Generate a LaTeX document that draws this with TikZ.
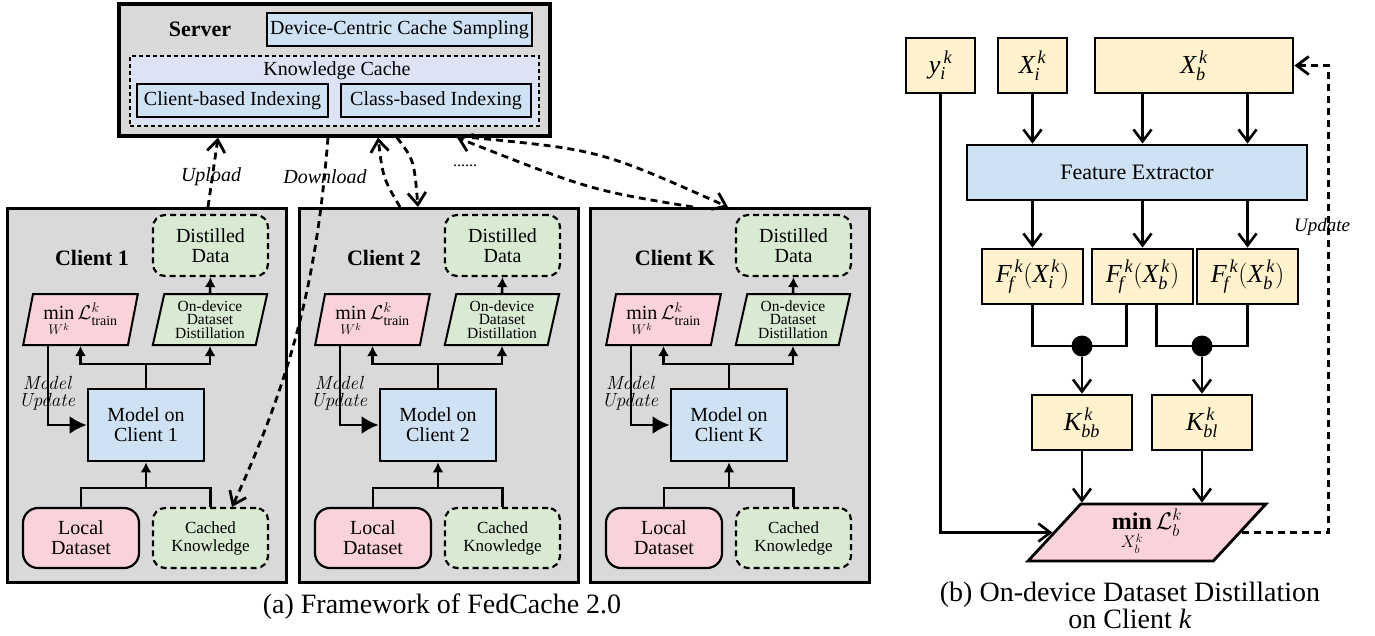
\RequirePackage{fix-cm}
\documentclass[tikz,border=0pt]{standalone}
\usepackage{amsmath}
\usepackage{fontspec}
\setmainfont{Liberation Serif}
\newfontfamily\lmr{Latin Modern Roman}
\usetikzlibrary{arrows.meta,shapes.geometric,calc}
\definecolor{cgray}{HTML}{D9D9D9}
\definecolor{cblue}{HTML}{CFE2F3}
\definecolor{clav}{HTML}{DCE3F5}
\definecolor{cpink}{HTML}{F9D2DA}
\definecolor{cgreen}{HTML}{D9EAD3}
\definecolor{cyel}{HTML}{FFF2CC}
\newcommand\fs[2]{\fontsize{#1}{#2}\selectfont}
\newcommand\mi[1]{\text{\itshape #1}}
\begin{document}
\begin{tikzpicture}[x=1pt,y=-1pt,
 outerbox/.style={draw, line width=3.2pt, fill=cgray, inner sep=0pt},
 thinbox/.style={draw, line width=1.4pt, fill=cblue, font=\fs{20}{22}, inner sep=0pt},
 kcbox/.style={draw, line width=1.4pt, dash pattern=on 4pt off 3pt, fill=clav},
 distbox/.style={draw, line width=2.2pt, dash pattern=on 6pt off 4pt, rounded corners=12pt, fill=cgreen, align=center, minimum width=115pt, inner sep=0pt},
 localbox/.style={draw, line width=2.2pt, rounded corners=15pt, fill=cpink, align=center, minimum width=116pt, minimum height=60pt, inner sep=0pt, font=\fs{20}{20}},
 modelbox/.style={draw, line width=2.8pt, fill=cblue, align=center, minimum width=116pt, minimum height=72pt, inner sep=0pt, font=\fs{20}{20}},
 pgram/.style={draw, line width=2pt, trapezium, trapezium left angle=77, trapezium right angle=103, trapezium stretches=true, minimum width=115pt, minimum height=51pt, inner sep=0pt, align=center},
 ybox/.style={draw, line width=2.8pt, fill=cyel, minimum height=55pt, inner sep=0pt, font=\fs{26}{28}},
 ln/.style={line width=2.6pt},
 farr/.style={ln, -{Latex[length=10pt,width=11pt]}},
 bigarr/.style={ln, -{Latex[length=17pt,width=18pt]}},
 barb/.style={-{Straight Barb[length=12pt,width=18pt]}},
 dsh/.style={line width=2.8pt, dash pattern=on 7pt off 5pt},
]
\useasboundingbox (0,0) rectangle (1375,635);

% ---------------- Server ----------------
\node[outerbox, minimum width=431pt, minimum height=132pt] (srv) at (334.5,70) {};
\node[font=\bfseries\fs{22}{24}] (srvl) at (200,29) {Server};
\node[thinbox, minimum width=265pt, minimum height=33pt] (dccs) at (399.5,29.5) {Device-Centric Cache Sampling};
\node[kcbox, minimum width=409pt, minimum height=70pt] (kc) at (334.5,91) {};
\node[font=\fs{20}{22}] (kcl) at (337,71) {Knowledge Cache};
\node[thinbox, minimum width=191pt, minimum height=33pt] (cbi) at (232.5,100.5) {Client-based Indexing};
\node[thinbox, minimum width=190pt, minimum height=33pt] (clbi) at (436,100.5) {Class-based Indexing};

% ---------------- Clients ----------------
\foreach \ci/\cx/\clab in {1/6/1,2/298/2,3/589/K} {
  \node[outerbox, minimum width=279pt, minimum height=374pt, anchor=north west] (c\ci) at (\cx,207) {};
  \begin{scope}[shift={(\cx,207)}]
    \node[font=\bfseries\fs{22}{24}] (cl\ci) at (86,51) {Client \clab};
    \node[distbox, minimum height=61pt, font=\fs{20}{20}] (dd\ci) at (204.5,38.5) {Distilled\\Data};
    \node[pgram, fill=cpink, font=\fs{20}{22}] (ml\ci) at (74.5,112.5) {$\min\limits_{W^k}\mathcal{L}^k_{\mathrm{train}}$};
    \node[pgram, fill=cgreen, font=\fs{15.5}{13.5}] (od\ci) at (204,112.5) {On-device\\Dataset\\Distillation};
    \node[modelbox] (m\ci) at (140,218) {Model on\\Client \clab};
    \node[localbox] (ld\ci) at (75,331) {Local\\Dataset};
    \node[distbox, minimum height=60pt, font=\fs{17}{18}] (ck\ci) at (204.5,331) {Cached\\Knowledge};
    \coordinate (jt\ci) at (140,157);
    \coordinate (jb\ci) at (140,281);
    \draw[ln] (m\ci.north) -- (jt\ci);
    \draw[farr] (jt\ci) -| (ml\ci.south);
    \draw[farr] (jt\ci) -| (od\ci.south);
    \draw[farr] (od\ci.north) -- (dd\ci.south);
    \draw[ln] (ld\ci.north) |- (jb\ci) -| (ck\ci.north);
    \draw[farr] (jb\ci) -- (m\ci.south);
    \draw[bigarr] ($(ml\ci.south)+(-32.5,0)$) |- (m\ci.west);
    \node[font=\lmr\itshape\fs{19}{17}, align=center] (mu\ci) at (41,186) {Model\\Update};
  \end{scope}
}

% ---------------- Server <-> clients ----------------
\coordinate (u1) at (208,0);
\coordinate (u2) at (218,0);
\coordinate (dl1) at (328,0);
\coordinate (dl2) at (232,0);
\coordinate (a1) at (400,0);
\coordinate (a2) at (378,0);
\coordinate (b1) at (397,0);
\coordinate (b2) at (418,0);
\coordinate (k1) at (693,0);
\coordinate (k2) at (457,0);
\coordinate (k3) at (472,0);
\coordinate (k4) at (728,0);

\draw[dsh, barb] (c1.north -| u1) -- (srv.south -| u2);
\draw[dsh, barb] (srv.south -| dl1) .. controls (318,260) and (300,360) .. (ck1.north -| dl2);
\draw[dsh, barb] (c2.north -| a1) .. controls (383,178) .. (srv.south -| a2);
\draw[dsh, barb] (srv.south -| b1) .. controls (414,160) .. (c2.north -| b2);
\draw[dsh, barb] (c3.north -| k1) .. controls (590,190) .. (srv.south -| k2);
\draw[dsh, barb] (srv.south -| k3) .. controls (600,150) .. (c3.north -| k4);

\node[font=\itshape\fs{20}{22}] (upl) at (211,177) {Upload};
\node[font=\itshape\fs{20}{22}] (dnl) at (325,177) {Download};
\node[font=\fs{16}{18}] (dots) at (465,166) {......};

% ---------------- Right panel ----------------
\node[ybox, minimum width=69pt] (yik) at (940.5,65.5) {$\mi{y}_{\mi{i}}^{\,\mi{k}}$};
\node[ybox, minimum width=69pt] (xik) at (1032.5,65.5) {$\mi{X}_{\mi{i}}^{\,\mi{k}}$};
\node[ybox, minimum width=198pt] (xbk) at (1194,65.5) {$\mi{X}_{\mi{b}}^{\,\mi{k}}$};
\node[draw, line width=2.8pt, fill=cblue, minimum width=340pt, minimum height=55pt, inner sep=0pt, font=\fs{22}{24}] (fe) at (1137,172.5) {Feature Extractor};
\node[ybox, minimum width=101pt] (f1) at (1032.5,276.5) {$\mi{F}_{\!\mi{f}}^{\,\mi{k}}(\mi{X}_{\mi{i}}^{\,\mi{k}})$};
\node[ybox, minimum width=101pt] (f2) at (1142.5,276.5) {$\mi{F}_{\!\mi{f}}^{\,\mi{k}}(\mi{X}_{\mi{b}}^{\,\mi{k}})$};
\node[ybox, minimum width=101pt] (f3) at (1247.5,276.5) {$\mi{F}_{\!\mi{f}}^{\,\mi{k}}(\mi{X}_{\mi{b}}^{\,\mi{k}})$};
\node[circle, fill=black, inner sep=0pt, minimum size=21pt] (d1) at (1082,346) {};
\node[circle, fill=black, inner sep=0pt, minimum size=21pt] (d2) at (1202,346) {};
\node[ybox, minimum width=100pt] (kbb) at (1082,422.5) {$\mi{K}_{\mi{bb}}^{\,\mi{k}}$};
\node[ybox, minimum width=100pt] (kbl) at (1202,422.5) {$\mi{K}_{\mi{bl}}^{\,\mi{k}}$};
\node[draw, line width=2.8pt, fill=cpink, trapezium, trapezium left angle=59, trapezium right angle=121, trapezium stretches=true, minimum width=238pt, minimum height=57pt, inner sep=0pt, font=\fs{24}{26}] (lb) at (1147,532.5) {$\mathop{\mathbf{min}}\limits_{X_b^k}\mathcal{L}_b^k$};

\coordinate (f2l) at ($(f2.south)+(-16,0)$);
\coordinate (f2r) at ($(f2.south)+(14,0)$);
\coordinate (uc) at ($(xbk.east)+(34,0)$);

\draw[ln, barb] (xik.south) -- (xik.south |- fe.north);
\draw[ln, barb] (xbk.south -| f2.north) -- (f2.north |- fe.north);
\draw[ln, barb] (xbk.south -| f3.north) -- (f3.north |- fe.north);
\draw[ln, barb] (fe.south -| f1.north) -- (f1.north);
\draw[ln, barb] (fe.south -| f2.north) -- (f2.north);
\draw[ln, barb] (fe.south -| f3.north) -- (f3.north);
\draw[ln] (f1.south) |- (d1.center) -| (f2l);
\draw[ln] (f2r) |- (d2.center) -| (f3.south);
\draw[ln, barb] (d1) -- (kbb.north);
\draw[ln, barb] (d2) -- (kbl.north);
\draw[ln, barb] (kbb.south) -- (kbb.south |- lb.north);
\draw[ln, barb] (kbl.south) -- (kbl.south |- lb.north);
\draw[ln, barb] (yik.south) |- (lb.left side);
\draw[dsh, barb] (lb.right side) -| (uc) -- (xbk.east);
\node[font=\itshape\fs{19}{20}] (updl) at (1322,227) {Update};

% ---------------- Captions ----------------
\node[font=\fs{28}{30}] (capa) at (442,607) {(a) Framework of FedCache 2.0};
\node[font=\fs{28}{27}, align=center] (capb) at (1130,605) {(b) On-device Dataset Distillation\\on Client \textit{k}};
\end{tikzpicture}
\end{document}
